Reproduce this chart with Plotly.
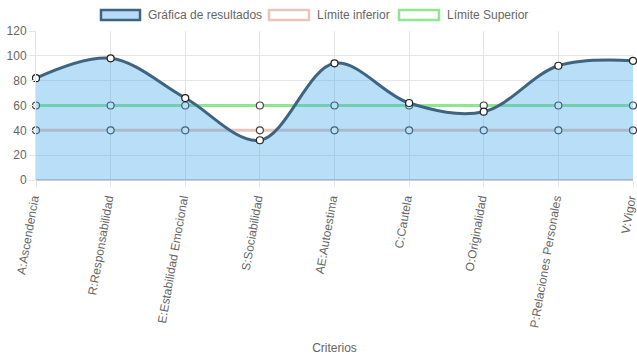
import plotly.graph_objects as go

categorias = ["A:Ascendencia", "R:Responsabilidad", "E:Estabilidad Emocional",
              "S:Sociabilidad", "AE:Autoestima", "C:Cautela", "O:Originalidad",
              "P:Relaciones Personales", "V:Vigor"]
resultados = [82, 98, 66, 32, 94, 62, 55, 92, 96]
limite_inferior = [40, 40, 40, 40, 40, 40, 40, 40, 40]
limite_superior = [60, 60, 60, 60, 60, 60, 60, 60, 60]
nombres = ["Gráfica de resultados", "Límite inferior", "Límite Superior"]

FONT = "Liberation Sans, Arial, sans-serif"
GRAY = "#666666"
FILL = "rgba(54,162,235,0.35)"
C_RES = "#3e6482"
C_INF = "#e8c6bb"
C_SUP = "#8fe68f"

W, H = 637, 359
ML, MR, MT, MB = 36, 4, 31, 179

fig = go.Figure()

lim_marker = dict(size=7, color="white", line=dict(color="#444444", width=1.2))
res_marker = dict(size=7, color="white", line=dict(color="#222222", width=1.2))

fig.add_trace(go.Scatter(
    x=categorias, y=limite_inferior, mode="lines+markers", name=nombres[1],
    line=dict(color=C_INF, width=3), marker=lim_marker,
    showlegend=False, cliponaxis=False, hoverinfo="skip"))
fig.add_trace(go.Scatter(
    x=categorias, y=limite_superior, mode="lines+markers", name=nombres[2],
    line=dict(color=C_SUP, width=3), marker=lim_marker,
    showlegend=False, cliponaxis=False, hoverinfo="skip"))
fig.add_trace(go.Scatter(
    x=categorias, y=resultados, mode="none",
    line=dict(shape="spline", smoothing=1.0),
    fill="tozeroy", fillcolor=FILL,
    showlegend=False, hoverinfo="skip"))
fig.add_trace(go.Scatter(
    x=categorias, y=resultados, mode="lines+markers", name=nombres[0],
    line=dict(color=C_RES, width=3, shape="spline", smoothing=1.0),
    marker=res_marker, showlegend=False, cliponaxis=False, hoverinfo="skip"))

# Chart.js-style legend: wide boxes + labels, in pixel positions converted to paper coords
def px(x):
    return (x - ML) / (W - ML - MR)

def py(y):
    return (H - MB - y) / (H - MT - MB)

legend_boxes = [(100, 141), (268, 310), (398, 440)]
legend_fill = ["#b9dbf7", "white", "white"]
legend_line = [C_RES, C_INF, C_SUP]
for (x0, x1), nombre, fc, lc in zip(legend_boxes, nombres, legend_fill, legend_line):
    fig.add_shape(type="rect", xref="paper", yref="paper",
                  x0=px(x0 + 1), x1=px(x1 - 1), y0=py(20), y1=py(10),
                  fillcolor=fc, line=dict(color=lc, width=2.5), layer="above")
    fig.add_annotation(xref="paper", yref="paper", x=px(x1 + 5), y=py(15),
                       text=nombre, showarrow=False, xanchor="left", yanchor="middle",
                       font=dict(family=FONT, size=12, color=GRAY))

fig.update_layout(
    width=W, height=H,
    margin=dict(l=ML, r=MR, t=MT, b=MB),
    paper_bgcolor="white", plot_bgcolor="white",
    font=dict(family=FONT, size=12, color=GRAY),
    showlegend=False,
    xaxis=dict(
        type="category", range=[0, len(categorias) - 1], automargin=False,
        showgrid=True, gridcolor="#e5e5e5", gridwidth=1,
        tickangle=-80, ticks="outside", ticklen=6, tickcolor="#e5e5e5",
        ticklabelshift=-3,
        tickfont=dict(size=12, color=GRAY), zeroline=False,
        showline=False,
        title=dict(text="Criterios", font=dict(size=12, color=GRAY), standoff=15),
    ),
    yaxis=dict(
        range=[0, 120], dtick=20, showgrid=True, gridcolor="#e5e5e5", gridwidth=1,
        ticks="outside", ticklen=6, tickcolor="#e5e5e5", automargin=False,
        tickfont=dict(size=12, color=GRAY),
        zeroline=True, zerolinecolor="#cccccc", zerolinewidth=2,
        showline=True, linecolor="#e5e5e5",
    ),
)

fig.write_html("out.html", config={"displayModeBar": False},
               post_script="document.body.style.margin='0';document.body.style.padding='0';")
